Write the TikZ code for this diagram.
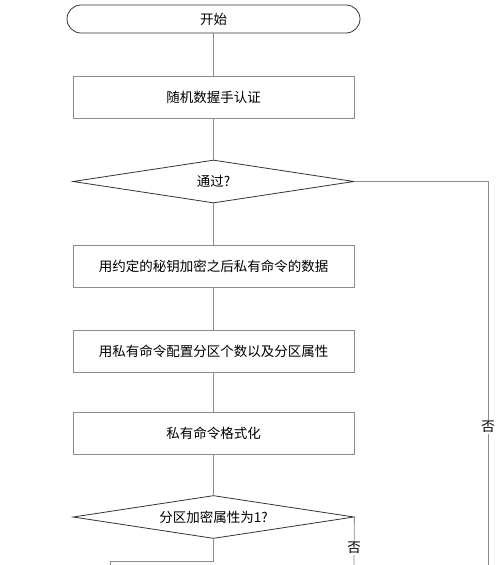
\documentclass[tikz,border=0pt]{standalone}
\usepackage{fontspec}
\setmainfont{Noto Sans CJK SC}
\usepackage{tikz}
\usetikzlibrary{shapes,calc}
\tikzstyle{every picture}+=[x=1pt,y=-1pt,font=\fontsize{13.5}{15}\selectfont]
\tikzstyle{terminal}=[rectangle,rounded corners=14pt,draw=black!80,line width=0.8pt,minimum width=293pt,minimum height=28pt,inner sep=0pt]
\tikzstyle{process}=[rectangle,draw=black!45,line width=0.8pt,minimum width=281pt,minimum height=42pt,inner sep=0pt]
\tikzstyle{decision}=[diamond,aspect=6.5,draw=black!80,line width=0.8pt,minimum width=281pt,minimum height=43pt,inner sep=0pt]
\tikzstyle{flow}=[draw=black!45,line width=0.8pt]
\tikzstyle{nolabel}=[fill=white,inner sep=1pt]

\begin{document}
\begin{tikzpicture}
\useasboundingbox (0,0) rectangle (500,565);
\node[terminal] (start) at (213.5,19) {开始};
\node[process] (auth) at (213.5,97) {随机数握手认证};
\node[decision] (pass) at (213.5,181.5) {通过?};
\node[process] (encrypt) at (213.5,266) {用约定的秘钥加密之后私有命令的数据};
\node[process] (config) at (213.5,351.5) {用私有命令配置分区个数以及分区属性};
\node[process] (format) at (213.5,433) {私有命令格式化};
\node[decision] (attr) at (213.5,517) {分区加密属性为1?};
\coordinate (passno) at (488,565);
\coordinate (attryes) at (110,565);
\coordinate (attrno) at (354,565);
\path[flow] (start) -- (auth)
            (auth) -- (pass)
            (pass) -- (encrypt)
            (encrypt) -- (config)
            (config) -- (format)
            (format) -- (attr);
\draw[flow] (pass.east) -| node[nolabel,pos=0.82] {否} (passno);
\draw[flow] (attr.south) -- ($(attr.south)+(0,22)$) -| (attryes);
\draw[flow] (attr.east) -- node[nolabel,pos=0.646] {否} (attrno);
\end{tikzpicture}
\end{document}
